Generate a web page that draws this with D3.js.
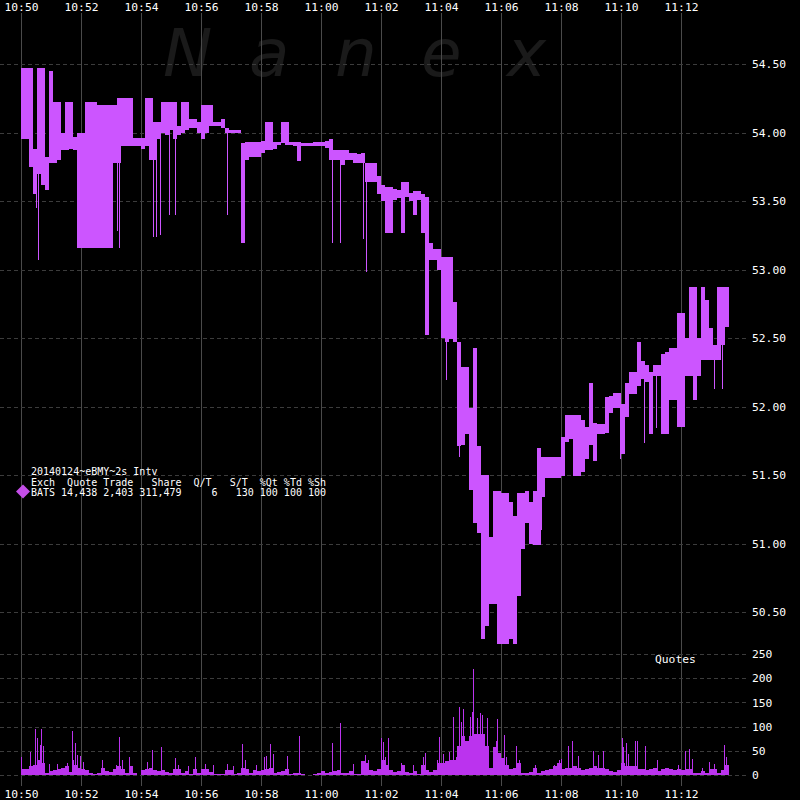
<!DOCTYPE html>
<html><head><meta charset="utf-8">
<script src="https://cdn.jsdelivr.net/npm/d3@7"></script>
<style>html,body{margin:0;padding:0;background:#000;}svg{display:block;}</style>
</head><body>
<script>
// ---- DATA ----
const sessionStart = "2014-01-24 10:50:00";
const bucketSeconds = 8; // each bucket spans 8 s (four 2-s intervals)
const timeTickLabels = ["10:50","10:52","10:54","10:56","10:58","11:00","11:02","11:04","11:06","11:08","11:10","11:12"];
const priceTicks = [50.5,51.0,51.5,52.0,52.5,53.0,53.5,54.0,54.5];
const quoteTicks = [0,50,100,150,200,250];

// price range (high / low of BATS quotes) per bucket
const priceHi = [
54.47,54.47,54.47,53.88,54.47,54.47,53.82,54.45,54.22,54.22,
54.00,54.22,54.22,53.97,54.00,54.00,54.22,54.22,54.22,54.20,
54.20,54.20,54.20,54.20,54.25,54.25,54.25,54.25,53.96,53.96,
53.96,54.25,54.25,54.08,54.08,54.22,54.22,54.22,54.22,54.05,
54.22,54.22,54.10,54.10,54.08,54.20,54.20,54.20,54.08,54.08,
54.10,54.03,54.02,54.02,54.02,53.92,53.93,53.93,53.93,53.93,
53.94,54.08,54.08,53.93,53.93,54.08,54.08,53.93,53.93,53.93,
53.92,53.92,53.92,53.93,53.93,53.93,53.94,53.95,53.87,53.87,
53.87,53.87,53.85,53.85,53.84,53.85,53.78,53.78,53.78,53.68,
53.62,53.60,53.60,53.59,53.58,53.64,53.64,53.56,53.57,53.57,
53.55,53.53,53.19,53.15,53.15,53.09,53.09,53.09,52.76,52.47,
52.29,52.29,51.99,52.43,51.71,51.50,51.50,51.05,51.38,51.38,
51.37,51.37,51.30,51.20,51.37,51.37,51.38,51.30,51.38,51.70,
51.63,51.63,51.63,51.63,51.63,51.78,51.94,51.94,51.94,51.94,
51.90,51.85,52.17,51.88,51.87,51.87,52.07,52.08,52.10,52.10,
52.02,52.17,52.25,52.25,52.47,52.33,52.30,52.25,52.30,52.30,
52.38,52.40,52.43,52.43,52.68,52.68,52.50,52.87,52.87,52.50,
52.87,52.78,52.57,52.45,52.87,52.87,52.87];
const priceLo = [
53.95,53.95,53.75,53.55,53.70,53.62,53.58,53.78,53.78,53.80,
53.87,53.87,53.88,53.87,53.16,53.16,53.16,53.16,53.16,53.16,
53.16,53.16,53.16,53.78,53.78,53.90,53.90,53.90,53.90,53.90,
53.88,53.90,53.80,53.80,53.95,54.00,53.98,54.02,53.95,53.98,
54.00,54.02,54.03,54.03,54.00,53.95,54.00,54.05,54.05,54.05,
54.03,54.00,54.00,54.00,54.00,53.19,53.80,53.82,53.82,53.82,
53.85,53.87,53.87,53.88,53.91,53.92,53.91,53.91,53.90,53.79,
53.90,53.90,53.90,53.90,53.90,53.90,53.89,53.80,53.80,53.80,
53.76,53.80,53.80,53.78,53.78,53.78,53.64,53.64,53.64,53.55,
53.50,53.27,53.27,53.51,53.52,53.27,53.53,53.50,53.40,53.51,
53.27,52.52,53.07,53.07,53.00,52.50,52.47,52.49,52.47,51.71,
51.72,51.80,51.39,51.15,51.08,50.30,50.40,50.56,50.56,50.27,
50.27,50.27,50.30,50.27,50.62,50.96,51.15,51.00,50.99,50.99,
51.34,51.48,51.48,51.48,51.48,51.49,51.74,51.76,51.49,51.49,
51.52,51.62,51.72,51.60,51.80,51.80,51.81,51.95,51.99,51.99,
51.65,51.92,52.09,52.09,52.15,52.20,52.18,51.80,52.22,52.22,
51.80,51.80,52.05,52.05,51.85,51.85,52.22,52.22,52.05,52.22,
52.34,52.34,52.34,52.34,52.34,52.45,52.58];

// single 2-s quotes that dipped below the bucket range
const priceSpikeSec = [30,34,192,196,264,270,278,296,308,412,622,638,684,690,850,876,1040,1198,1246,1270,1386,1402];
const priceSpikeLow = [53.45,53.07,53.28,53.16,53.24,53.24,53.25,53.40,53.40,53.40,53.19,53.19,53.22,52.98,52.19,51.63,51.10,51.62,51.73,51.84,52.13,52.13];

// quote counts: typical level per bucket
const quoteBase = [
12,12,18,20,30,25,4,8,10,12,
15,18,6,20,15,12,10,5,3,4,
15,8,6,12,18,12,5,18,4,1,
10,12,15,10,8,10,6,5,12,12,
4,8,3,12,4,12,12,6,3,2,
3,10,10,3,4,15,12,5,10,8,
10,12,15,5,6,8,12,3,5,4,
2,0,0,3,4,8,4,6,8,10,
5,4,8,3,2,28,25,10,8,12,
30,20,10,6,8,20,6,4,8,2,
20,10,6,10,25,25,28,30,30,60,
80,70,80,85,85,85,60,15,57,45,
35,20,12,15,25,5,5,6,15,5,
8,10,12,18,25,12,15,15,18,15,
10,12,15,18,15,15,12,8,6,10,
25,18,18,18,12,12,10,12,14,8,
12,15,12,10,12,10,12,12,4,4,
8,4,12,12,4,10,20];
// individual 2-s intervals with high quote counts
const quoteSpikeSec = [0,18,28,32,38,40,44,56,72,92,102,104,108,112,118,124,162,190,196,202,216,252,262,280,308,314,334,348,368,384,412,424,442,448,470,486,490,498,504,532,556,622,638,664,688,694,720,724,728,734,760,784,804,808,832,836,844,856,864,870,876,880,884,898,902,904,912,918,922,932,946,950,952,966,970,990,996,1028,1066,1076,1080,1094,1102,1114,1144,1154,1164,1202,1204,1210,1214,1228,1232,1248,1272,1314,1328,1336,1342,1362,1376,1386,1406,1410];
const quoteSpikeVal = [38,48,95,77,63,95,60,22,22,25,90,30,67,41,40,27,30,20,78,30,37,27,51,58,35,20,18,37,22,20,23,18,65,31,20,37,40,65,43,40,80,67,107,23,42,30,77,69,37,77,25,20,37,45,32,78,43,48,120,37,140,110,137,120,130,218,117,129,123,117,57,70,115,82,37,59,30,20,20,30,33,60,70,40,50,42,50,77,57,67,43,70,70,59,30,20,50,53,33,15,27,23,61,37];

const legendTitle = "20140124~eBMY~2s Intv";
const legendHeader = "Exch  Quote Trade   Share  Q/T   S/T  %Qt %Td %Sh";
const legendRow = "BATS 14,438 2,403 311,479     6   130 100 100 100";
const watermark = ["N","a","n","e","x"];

// ---- CHART ----
const W = 800, H = 800;
const priceColor = "#cc55ff", quoteColor = "#bb33ee";
const parse = d3.timeParse("%Y-%m-%d %H:%M:%S");
const t0 = parse(sessionStart);
const sec = s => new Date(t0.getTime() + s * 1000);
const x = d3.scaleTime().domain([t0, sec(24 * 60)]).range([21, 741]);
const yP = d3.scaleLinear().domain([50.5, 54.5]).range([612, 64]);
const yQ = d3.scaleLinear().domain([0, 250]).range([775, 654]);

const svg = d3.select("body").append("svg").attr("width", W).attr("height", H)
  .style("background", "#000");
svg.append("rect").attr("width", W).attr("height", H).attr("fill", "#000");

// watermark
const wm = svg.append("g").attr("fill", "#1a1a1a")
  .style("font-family", "'DejaVu Sans', sans-serif").style("font-style", "oblique")
  .style("font-size", "66px");
wm.selectAll("text").data(watermark).join("text")
  .attr("x", (d, i) => 163 + i * 86).attr("y", 76).text(d => d);

const font = "'DejaVu Sans Mono', monospace";
const tickDates = timeTickLabels.map(s => d3.timeParse("%Y-%m-%d %H:%M")("2014-01-24 " + s));

// vertical gridlines
svg.append("g").selectAll("line").data(tickDates).join("line")
  .attr("x1", d => Math.round(x(d)) + 0.5).attr("x2", d => Math.round(x(d)) + 0.5)
  .attr("y1", 13).attr("y2", 786).attr("stroke", "#4a4a4a").attr("stroke-width", 1);

// horizontal dashed gridlines
const dashed = (g, vals, sc) => g.selectAll("line").data(vals).join("line")
  .attr("x1", 0).attr("x2", 747)
  .attr("y1", d => Math.round(sc(d)) + 0.5).attr("y2", d => Math.round(sc(d)) + 0.5)
  .attr("stroke", "#3c3c3c").attr("stroke-dasharray", "4,3");
dashed(svg.append("g"), priceTicks, yP);
dashed(svg.append("g"), quoteTicks, yQ);

// axes (labels only, Nanex style)
const fmt = d3.timeFormat("%H:%M");
const axTop = d3.axisTop(x).tickValues(tickDates).tickFormat(fmt).tickSize(0);
const axBot = d3.axisBottom(x).tickValues(tickDates).tickFormat(fmt).tickSize(0);
const styleAxis = g => {
  g.select(".domain").remove();
  g.selectAll("text").attr("fill", "#fff").style("font-family", font).style("font-size", "11.3px");
};
svg.append("g").attr("transform", "translate(0,0)").call(axTop).call(styleAxis)
  .selectAll("text").attr("y", 11).attr("dy", 0);
svg.append("g").attr("transform", "translate(0,787)").call(axBot).call(styleAxis)
  .selectAll("text").attr("dy", "0.71em");

const axR1 = d3.axisRight(yP).tickValues(priceTicks).tickFormat(d3.format(".2f")).tickSize(0);
svg.append("g").attr("transform", "translate(749,0)").call(axR1).call(styleAxis);
const axR2 = d3.axisRight(yQ).tickValues(quoteTicks).tickFormat(d3.format("d")).tickSize(0);
svg.append("g").attr("transform", "translate(749,0)").call(axR2).call(styleAxis);

// price bars
const bw = x(sec(bucketSeconds)) - x(sec(0));
svg.append("g").attr("fill", priceColor).attr("shape-rendering", "crispEdges")
  .selectAll("rect").data(priceHi.map((h, i) => ({i, h, l: priceLo[i]}))).join("rect")
  .attr("x", d => x(sec(d.i * bucketSeconds)))
  .attr("width", bw)
  .attr("y", d => yP(d.h))
  .attr("height", d => Math.max(2, yP(d.l) - yP(d.h)));

// price spikes
svg.append("g").attr("stroke", priceColor).attr("stroke-width", 1.2).attr("shape-rendering", "crispEdges")
  .selectAll("line").data(priceSpikeSec.map((s, i) => ({s, lo: priceSpikeLow[i]}))).join("line")
  .attr("x1", d => Math.round(x(sec(d.s))) + 0.5).attr("x2", d => Math.round(x(sec(d.s))) + 0.5)
  .attr("y1", d => yP(d.lo))
  .attr("y2", d => yP(priceLo[Math.floor(d.s / bucketSeconds)]));

// quote count bars
svg.append("g").attr("fill", quoteColor).attr("shape-rendering", "crispEdges")
  .selectAll("rect").data(quoteBase.map((v, i) => ({i, v}))).join("rect")
  .attr("x", d => x(sec(d.i * bucketSeconds)))
  .attr("width", bw)
  .attr("y", d => yQ(d.v))
  .attr("height", d => yQ(0) - yQ(d.v));
svg.append("g").attr("stroke", quoteColor).attr("stroke-width", 1).attr("shape-rendering", "crispEdges")
  .selectAll("line").data(quoteSpikeSec.map((s, i) => ({s, v: quoteSpikeVal[i]}))).join("line")
  .attr("x1", d => Math.round(x(sec(d.s))) + 0.5).attr("x2", d => Math.round(x(sec(d.s))) + 0.5)
  .attr("y1", d => yQ(d.v)).attr("y2", yQ(0));

// "Quotes" label
svg.append("text").attr("x", 655).attr("y", 663).attr("fill", "#fff")
  .style("font-family", font).style("font-size", "11.3px").text("Quotes");

// legend
const lg = svg.append("g").style("font-family", font).style("font-size", "10px")
  .attr("fill", "#fff").style("white-space", "pre");
[legendTitle, legendHeader, legendRow].forEach((s, i) => {
  lg.append("text").attr("x", 31).attr("y", 475 + i * 10.5).attr("xml:space", "preserve").text(s);
});
lg.append("path").attr("d", "M23,484.5 L30,491.5 L23,498.5 L16,491.5 Z").attr("fill", "#c44ee8");
</script>
</body></html>
